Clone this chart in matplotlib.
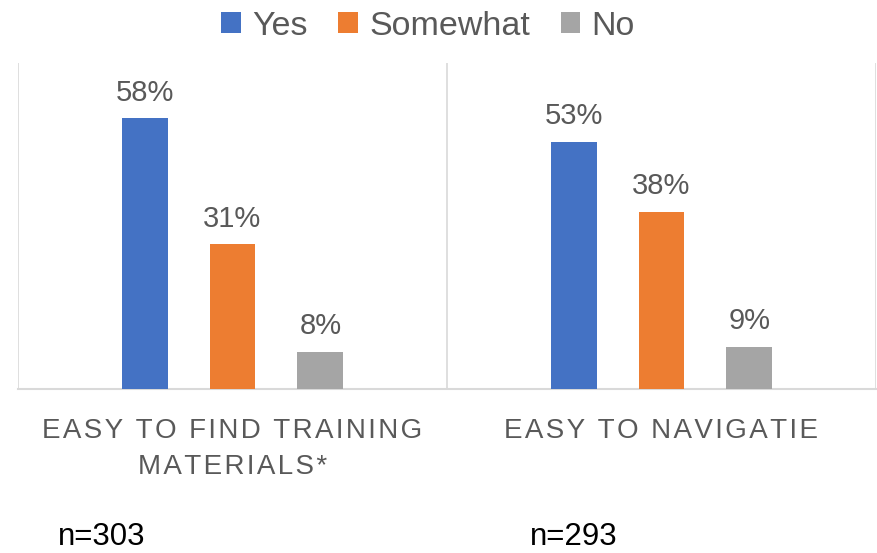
import textwrap
import matplotlib
matplotlib.use('Agg')
import matplotlib.pyplot as plt
import matplotlib.transforms as mtransforms
from matplotlib.patches import Patch

# survey results (share of respondents)
categories = ["EASY TO FIND TRAINING MATERIALS*", "EASY TO NAVIGATIE"]
series_names = ["Yes", "Somewhat", "No"]
yes_vals = [0.58, 0.53]
somewhat_vals = [0.31, 0.38]
no_vals = [0.08, 0.09]
sample_sizes = [303, 293]

colors = ["#4472C4", "#ED7D31", "#A5A5A5"]
text_grey = "#595959"
grid_grey = "#D9D9D9"
font = ["Liberation Sans", "DejaVu Sans"]
plt.rcParams['font.family'] = font

fig = plt.figure(figsize=(8.78, 5.53), dpi=100)
ax = fig.add_axes([18 / 878, 1 - 389 / 553, 858 / 878, (389 - 62.5) / 553])

x = list(range(len(categories)))
bar_w = 0.107
step = 0.205
all_vals = [yes_vals, somewhat_vals, no_vals]
for k, (vals, col) in enumerate(zip(all_vals, colors)):
    pos = [xi + (k - 1) * step for xi in x]
    bars = ax.bar(pos, vals, width=bar_w, color=col, zorder=3)
    for b, v in zip(bars, vals):
        ax.annotate(f"{v * 100:.0f}%", (b.get_x() + b.get_width() / 2, v),
                    xytext=(0, 8.5), textcoords='offset points',
                    ha='center', va='bottom', fontsize=21, color=text_grey)

ax.set_xlim(-0.5, len(categories) - 0.5)
ax.set_ylim(0, 0.70)
ax.set_xticks([])
ax.set_yticks([])
for side in ['top', 'left', 'right']:
    ax.spines[side].set_visible(False)
ax.spines['bottom'].set_color(grid_grey)
ax.spines['bottom'].set_linewidth(1.5)
for xb in [xi - 0.5 for xi in x] + [x[-1] + 0.5]:
    ax.axvline(xb, color=grid_grey, linewidth=1.2, zorder=1)

# category labels, letter-spaced, wrapped onto two lines where needed
trans = mtransforms.blended_transform_factory(ax.transData, fig.transFigure)
line_y = [1 - 438 / 553, 1 - 474 / 553]
for xi, cat in zip(x, categories):
    for j, line in enumerate(textwrap.wrap(cat, 22)):
        spaced = "\u200a".join(line)
        fig.text(xi, line_y[j], spaced, transform=trans, ha='center',
                 va='baseline', fontsize=20, color=text_grey, family=font)

# sample sizes
for xpix, n in zip([58, 530], sample_sizes):
    fig.text(xpix / 878, 1 - 545 / 553, f"n={n}", ha='left', va='baseline',
             fontsize=22.5, color='black')

handles = [Patch(facecolor=c, edgecolor='none') for c in colors]
fig.legend(handles, series_names, loc='upper center',
           bbox_to_anchor=(428 / 878, 1.036), ncol=3, frameon=False,
           fontsize=24.5, handlelength=0.58, handleheight=0.58,
           handletextpad=0.33, columnspacing=0.9, labelcolor=text_grey)

fig.savefig("out.png", dpi=100)
